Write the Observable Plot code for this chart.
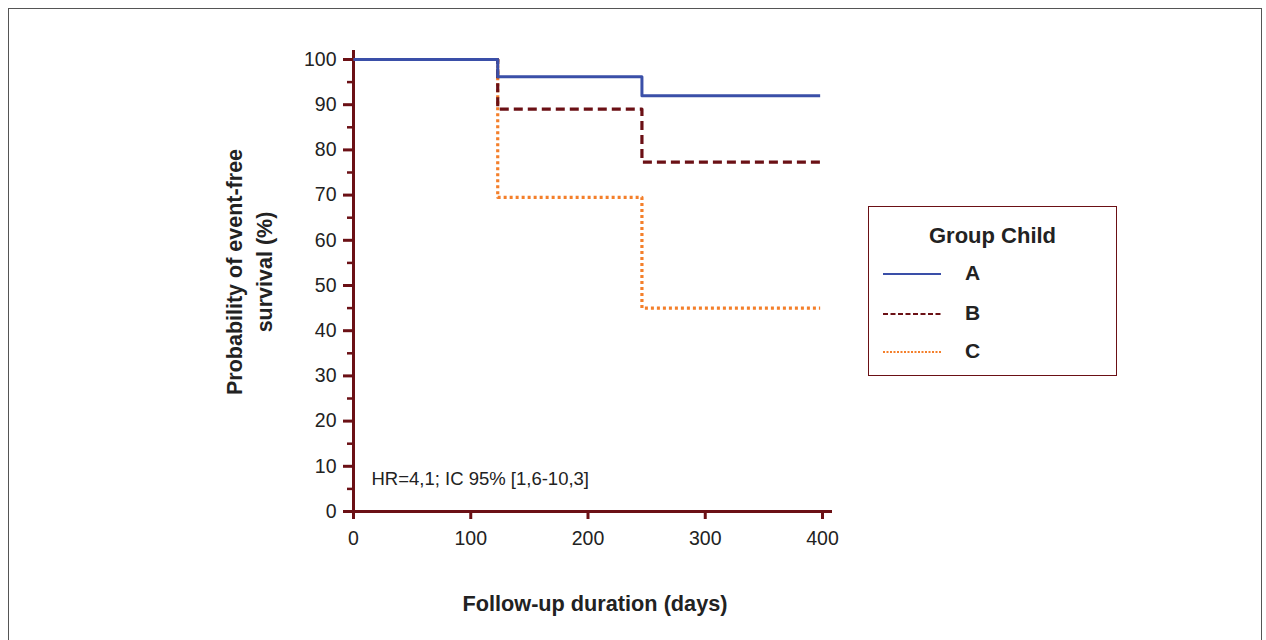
<!DOCTYPE html>
<html>
<head>
<meta charset="utf-8">
<script src="https://cdn.jsdelivr.net/npm/d3@7"></script>
<script src="https://cdn.jsdelivr.net/npm/@observablehq/plot@0.6"></script>
<style>
  html, body { margin: 0; padding: 0; background: #fff; overflow: hidden; }
  #wrap { position: relative; width: 1266px; height: 640px; font-family: "Liberation Sans", Arial, sans-serif; }
  #frame { position: absolute; left: 8px; top: 8px; width: 1254px; height: 700px; border: 1.5px solid #555; box-sizing: border-box; }
  #chart { position: absolute; left: 0; top: 0; }
  .ylab { position: absolute; left: 250px; top: 272px; transform: translate(-50%, -50%) rotate(-90deg); font-weight: bold; font-size: 21.5px; color: #222; text-align: center; line-height: 30px; white-space: nowrap; }
  .xlab { position: absolute; left: 595px; top: 604px; transform: translate(-50%, -50%); font-weight: bold; font-size: 21.7px; color: #222; white-space: nowrap; }
  #legend { position: absolute; left: 868px; top: 206px; width: 249px; height: 170px; border: 1.5px solid #6b1015; box-sizing: border-box; background: #fff; }
  #legend .title { position: absolute; left: 0; right: 0; top: 16px; text-align: center; font-weight: bold; font-size: 22px; color: #222; }
  #legend .item { position: absolute; left: 14px; height: 20px; }
  #legend .item svg { position: absolute; left: 0; top: 0; }
  #legend .item span { position: absolute; left: 82px; top: -3px; font-weight: bold; font-size: 21px; color: #222; }
</style>
</head>
<body>
<div id="wrap">
  <div id="frame"></div>
  <div id="chart"></div>
  <div class="ylab">Probability of event-free<br>survival (%)</div>
  <div class="xlab">Follow-up duration (days)</div>
  <div id="legend"></div>
</div>
<script>
// Data
const times = [0, 123, 246, 398];
const groups = ["A", "B", "C"];
const survA = [100, 96.2, 92, 92];
const survB = [100, 89, 77.3, 77.3];
const survC = [100, 69.5, 45, 45];
const xTicks = [0, 100, 200, 300, 400];
const yTicks = [0, 10, 20, 30, 40, 50, 60, 70, 80, 90, 100];
const yMinorTicks = [5, 15, 25, 35, 45, 55, 65, 75, 85, 95];
const hrLabel = "HR=4,1; IC 95% [1,6-10,3]";
const legendTitle = "Group Child";

const colors = {A: "#3a4fa8", B: "#6b1015", C: "#f47f2a"};
const dashes = {A: null, B: "9,5", C: "3,3"};
const widths = {A: 3, B: 3.2, C: 3.2};
const series = {A: survA, B: survB, C: survC};
const axisColor = "#6b1015";

const rows = g => times.map((t, i) => ({t, s: series[g][i], g}));

const chart = Plot.plot({
  width: 1266,
  height: 640,
  marginLeft: 353,
  marginRight: 444,
  marginTop: 59,
  marginBottom: 129,
  style: {fontFamily: "Liberation Sans, Arial, sans-serif", background: "transparent"},
  x: {domain: [0, 400], label: null},
  y: {domain: [0, 100], label: null},
  marks: [
    // minor y ticks
    Plot.axisY({ticks: yMinorTicks, tickSize: 6, text: null, label: null, stroke: axisColor, strokeWidth: 2.5}),
    // major y ticks
    Plot.axisY({ticks: yTicks, tickSize: 10, text: null, label: null, stroke: axisColor, strokeWidth: 3}),
    // y labels
    Plot.axisY({ticks: yTicks, tickSize: 0, tickPadding: 17, fontSize: 19.5, fill: "#222", label: null}),
    // x ticks
    Plot.axisX({ticks: xTicks, tickSize: 8, text: null, label: null, stroke: axisColor, strokeWidth: 3}),
    Plot.axisX({ticks: xTicks, tickSize: 0, tickPadding: 20, fontSize: 19.5, fill: "#222", label: null}),
    // axis lines
    Plot.ruleX([0], {stroke: axisColor, strokeWidth: 3, insetTop: -9, insetBottom: -7}),
    Plot.ruleY([0], {stroke: axisColor, strokeWidth: 3, insetLeft: -8, insetRight: -10}),
    // survival curves
    ...["C", "B", "A"].map(g => Plot.line(rows(g), {
      x: "t", y: "s", curve: "step-after",
      stroke: colors[g], strokeWidth: widths[g],
      strokeDasharray: dashes[g] ?? undefined,
      strokeLinecap: "butt"
    })),
    Plot.text([hrLabel], {frameAnchor: "bottom-left", dx: 18, dy: -27, textAnchor: "start", fontSize: 18.5, fill: "#222"})
  ]
});
document.getElementById("chart").appendChild(chart);

// Legend
const legend = document.getElementById("legend");
const title = document.createElement("div");
title.className = "title";
title.textContent = legendTitle;
legend.appendChild(title);
const legendY = [67, 107, 145];
groups.forEach((g, i) => {
  const item = document.createElement("div");
  item.className = "item";
  item.style.top = (legendY[i] - 10) + "px";
  item.innerHTML = `<svg width="60" height="20"><line x1="0" x2="58" y1="10" y2="10" stroke="${colors[g]}" stroke-width="${g === "A" ? 1.8 : 2}" ${dashes[g] ? `stroke-dasharray="${g === "B" ? "5,2.5" : "2,1.5"}"` : ""}/></svg><span>${g}</span>`;
  legend.appendChild(item);
});
</script>
</body>
</html>
